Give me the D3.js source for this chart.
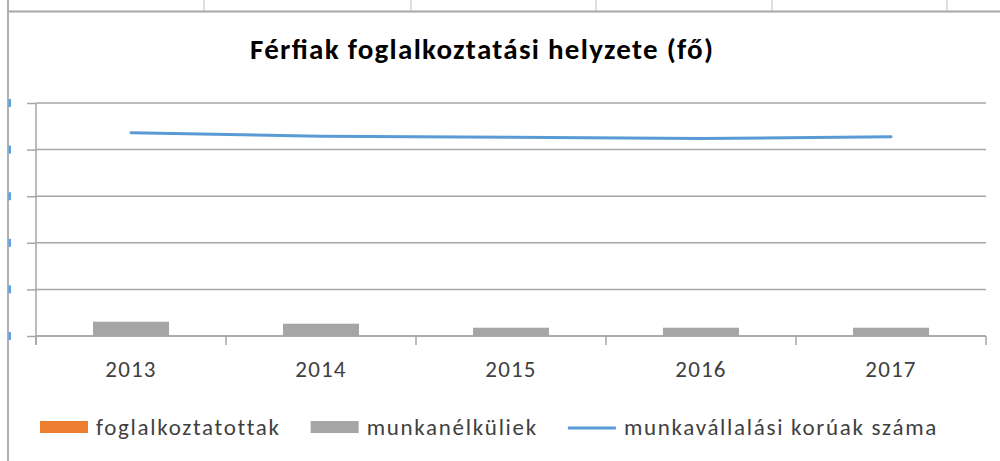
<!DOCTYPE html>
<html>
<head>
<meta charset="utf-8">
<script src="https://cdn.jsdelivr.net/npm/d3@7"></script>
<style>
  body { margin: 0; background: #fff; }
  svg { display: block; }
  text { font-family: Carlito, Calibri, Lato, sans-serif; }
</style>
</head>
<body>
<svg width="1000" height="461"></svg>
<script>
// data (fő)
var years = ['2013', '2014', '2015', '2016', '2017'];
var foglalkoztatottak = [null, null, null, null, null]; // not visible in the chart
var munkanelkuliek = [245000, 211000, 142000, 142000, 142000];
var munkavallalasiKoruak = [3490000, 3430000, 3413000, 3390000, 3420000];
var yTicks = [0, 800000, 1600000, 2400000, 3200000, 4000000];
var seriesNames = ['foglalkoztatottak', 'munkanélküliek', 'munkavállalási korúak száma'];

function main() {
	var svg = d3.select('svg'),
	width = +svg.attr('width'),
	height = +svg.attr('height');

	var colors = { orange: '#ed7d31', gray: '#a5a5a5', blue: '#5b9bd5', grid: '#a6a6a6', text: '#404040' };

	// spreadsheet bits behind the chart
	var sheet = svg.append('g');
	[204, 411, 596, 772, 947].forEach(function(x){
		sheet.append('line').attr('x1', x).attr('x2', x).attr('y1', 0).attr('y2', 11)
			.attr('stroke', '#d4d4d4').attr('stroke-width', 1.5);
	});
	sheet.append('line').attr('x1', 8).attr('x2', width).attr('y1', 11.5).attr('y2', 11.5)
		.attr('stroke', '#a8a8a8').attr('stroke-width', 2);
	sheet.append('line').attr('x1', 8).attr('x2', 8).attr('y1', 0).attr('y2', height)
		.attr('stroke', '#b0b0b0').attr('stroke-width', 2);

	var x = d3.scaleBand().domain(years).range([36, 986]).paddingInner(0).paddingOuter(0);
	var y = d3.scaleLinear().domain([0, 4000000]).range([336, 103]);

	// cut-off tick labels at the left edge
	sheet.selectAll('.stub').data(yTicks).enter().append('rect')
		.attr('x', 8.5).attr('y', function(d){ return y(d) - 4; })
		.attr('width', 2.5).attr('height', 8)
		.attr('fill', '#5aa2e6');

	var g = svg.append('g');

	// gridlines + left tick marks
	g.append('g')
		.attr('transform', 'translate(36,0)')
		.call(d3.axisLeft(y).tickValues(yTicks).tickSize(9).tickFormat(''))
		.call(function(a){
			a.select('.domain').remove();
			a.selectAll('line').attr('stroke', colors.grid).attr('stroke-width', 1.5);
		});
	g.append('g')
		.selectAll('line').data(yTicks).enter().append('line')
		.attr('x1', 36).attr('x2', 986)
		.attr('y1', function(d){ return y(d); }).attr('y2', function(d){ return y(d); })
		.attr('stroke', colors.grid).attr('stroke-width', 1.5);

	// y axis line
	g.append('line').attr('x1', 36).attr('x2', 36).attr('y1', y(4000000)).attr('y2', 345)
		.attr('stroke', colors.grid).attr('stroke-width', 1.5);

	// x axis ticks at category boundaries
	var bounds = years.map(function(d){ return x(d); }).concat([x.range()[1]]);
	g.selectAll('.xtick').data(bounds).enter().append('line')
		.attr('x1', function(d){ return d; }).attr('x2', function(d){ return d; })
		.attr('y1', y(0)).attr('y2', 345)
		.attr('stroke', colors.grid).attr('stroke-width', 1.5);

	// bars
	var barW = x.bandwidth() * 0.4;
	g.selectAll('.bar-o').data(years.filter(function(d, i){ return foglalkoztatottak[i] != null; }))
		.enter().append('rect')
		.attr('x', function(d){ return x(d) + (x.bandwidth() - barW) / 2; })
		.attr('y', function(d){ return y(foglalkoztatottak[years.indexOf(d)]); })
		.attr('width', barW)
		.attr('height', function(d){ return y(0) - y(foglalkoztatottak[years.indexOf(d)]); })
		.attr('fill', colors.orange);

	g.selectAll('.bar-g').data(years).enter().append('rect')
		.attr('x', function(d){ return x(d) + (x.bandwidth() - barW) / 2; })
		.attr('y', function(d, i){ return y(munkanelkuliek[i]); })
		.attr('width', barW)
		.attr('height', function(d, i){ return y(0) - y(munkanelkuliek[i]); })
		.attr('fill', colors.gray);

	// redraw x axis line over bars
	g.append('line').attr('x1', 36).attr('x2', 986).attr('y1', y(0)).attr('y2', y(0))
		.attr('stroke', colors.grid).attr('stroke-width', 1.5);

	// line
	var line = d3.line()
		.x(function(d, i){ return x(years[i]) + x.bandwidth() / 2; })
		.y(function(d){ return y(d); });
	g.append('path').datum(munkavallalasiKoruak)
		.attr('d', line)
		.attr('fill', 'none')
		.attr('stroke', colors.blue)
		.attr('stroke-width', 3)
		.attr('stroke-linecap', 'round');

	// category labels
	g.selectAll('.xlab').data(years).enter().append('text')
		.attr('x', function(d){ return x(d) + x.bandwidth() / 2; })
		.attr('y', 376.5)
		.attr('text-anchor', 'middle')
		.attr('font-size', 23)
		.attr('letter-spacing', 1.2)
		.attr('fill', colors.text)
		.text(function(d){ return d; });

	// title
	svg.append('text')
		.attr('x', 250).attr('y', 58.5)
		.attr('font-size', 29)
		.attr('font-weight', 'bold')
		.attr('textLength', 463)
		.attr('lengthAdjust', 'spacing')
		.attr('fill', '#000')
		.text('Férfiak foglalkoztatási helyzete (fő)');

	// legend
	var legend = svg.append('g');
	var lx = 40;
	var swatch = [colors.orange, colors.gray, colors.blue];
	seriesNames.forEach(function(name, i){
		if (i < 2) {
			legend.append('rect').attr('x', lx).attr('y', 421).attr('width', 48).attr('height', 12)
				.attr('fill', swatch[i]);
		} else {
			legend.append('line').attr('x1', lx).attr('x2', lx + 48).attr('y1', 428).attr('y2', 428)
				.attr('stroke', swatch[i]).attr('stroke-width', 3);
		}
		var t = legend.append('text')
			.attr('x', lx + 56).attr('y', 435)
			.attr('font-size', 23)
			.attr('letter-spacing', 1.7)
			.attr('fill', colors.text)
			.text(name);
		lx = lx + 56 + t.node().getComputedTextLength() + 30;
	});
}
main();
</script>
</body>
</html>
